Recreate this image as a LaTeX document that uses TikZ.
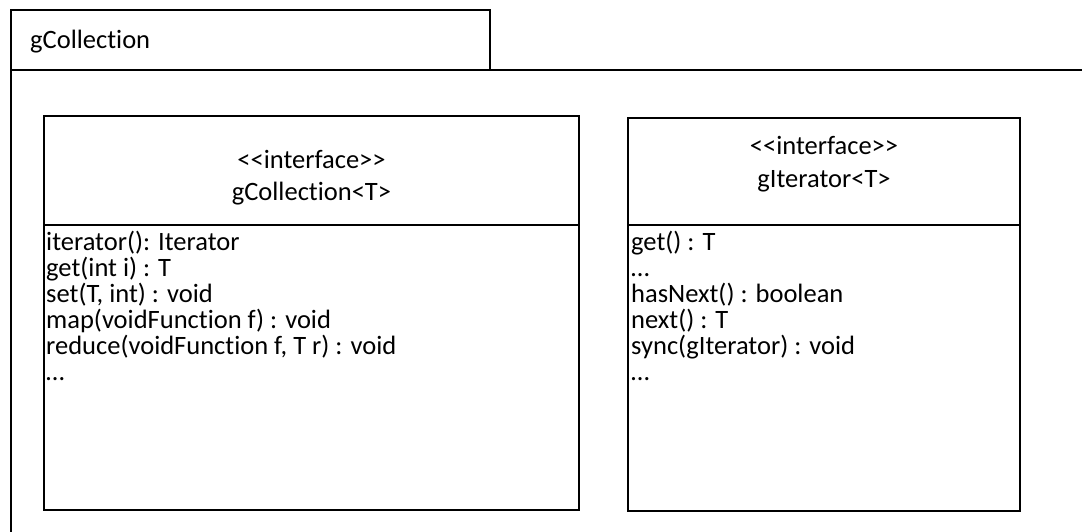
\documentclass[tikz,border=0pt]{standalone}
\usepackage{fontspec}
\setmainfont{Carlito}[Ligatures={NoCommon}]
\begin{document}
\begin{tikzpicture}[x=1pt,y=-1pt,
  frame/.style={draw=black, line width=2pt},
  member/.style={anchor=base west, inner sep=0pt, font=\fontsize{26.5}{26}\selectfont},
  heading/.style={anchor=base, inner sep=0pt, font=\fontsize{26.5}{26}\selectfont}]
\useasboundingbox (0,0) rectangle (1082,531);
\clip (0,0) rectangle (1082,531);

% package with its name tab
\draw[frame] (11,10) rectangle (490,70);
\draw[frame] (1095,70) -- (11,70) -- (11,545);
\node[member] (pkg) at (30,48) {gCollection};

% interface gCollection<T>
\draw[frame] (44,116) rectangle (579,510);
\draw[frame] (44,225) -- (579,225);
\node[heading] (colSt) at (311.5,168) {<{}<interface>{}>};
\node[heading] (colName) at (311.5,200) {gCollection<T>};
\node[member] (c1) at (46,250) {iterator(): Iterator};
\node[member] (c2) at (46,276) {get(int i) : T};
\node[member] (c3) at (46,302) {set(T, int) : void};
\node[member] (c4) at (46,328) {map(voidFunction f) : void};
\node[member] (c5) at (46,354) {reduce(voidFunction f, T r) : void};
\node[member] (c6) at (46,380) {…};

% interface gIterator<T>
\draw[frame] (628,118) rectangle (1020,511);
\draw[frame] (628,225) -- (1020,225);
\node[heading] (itSt) at (824,154) {<{}<interface>{}>};
\node[heading] (itName) at (824,187) {gIterator<T>};
\node[member] (i1) at (631,250) {get() : T};
\node[member] (i2) at (631,276) {…};
\node[member] (i3) at (631,302) {hasNext() : boolean};
\node[member] (i4) at (631,328) {next() : T};
\node[member] (i5) at (631,354) {sync(gIterator) : void};
\node[member] (i6) at (631,380) {…};
\end{tikzpicture}
\end{document}
